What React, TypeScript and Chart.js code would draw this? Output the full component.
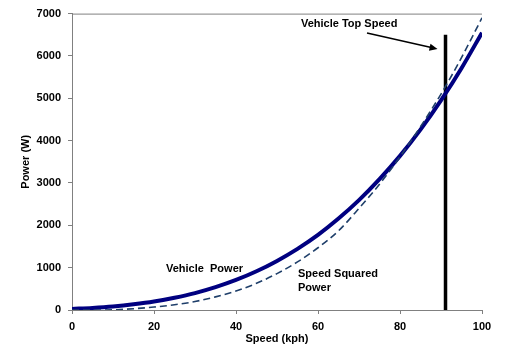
import React, { useEffect, useRef } from "react";
import { Chart, registerables } from "chart.js";

Chart.register(...registerables);

const speeds = [0, 5, 10, 15, 20, 25, 30, 35, 40, 45, 50, 55, 60, 65, 70, 75, 80, 85, 90, 95, 100];
const vehiclePower = [25, 50, 85, 135, 200, 290, 400, 540, 710, 915, 1160, 1445, 1775, 2160, 2595, 3090, 3640, 4260, 4950, 5710, 6550];
const speedSquaredPower = [0, 0, 5, 30, 70, 124, 200, 310, 450, 630, 860, 1135, 1470, 1870, 2400, 2970, 3620, 4330, 5100, 5960, 6900];
const topSpeed = 91.1;
const topSpeedLineTop = 6500;
const xTicks = [0, 20, 40, 60, 80, 100];
const yTicks = [0, 1000, 2000, 3000, 4000, 5000, 6000, 7000];

const FONT = "'Liberation Sans', Arial, sans-serif";

const overlay = {
  id: "overlay",
  afterDraw(chart: any) {
    const { ctx, chartArea } = chart;
    const xs = chart.scales.x;
    ctx.save();
    // top border
    ctx.strokeStyle = "#808080";
    ctx.lineWidth = 1;
    ctx.beginPath();
    ctx.moveTo(chartArea.left, chartArea.top + 0.5);
    ctx.lineTo(chartArea.right, chartArea.top + 0.5);
    ctx.stroke();

    ctx.fillStyle = "#000";
    ctx.font = `bold 11px ${FONT}`;
    ctx.textBaseline = "middle";
    // annotations
    ctx.textAlign = "left";
    ctx.fillText("Vehicle Top Speed", 301, 24);
    ctx.fillText("Vehicle  Power", 166, 269);
    ctx.fillText("Speed Squared", 298, 274);
    ctx.fillText("Power", 298, 288);

    // arrow
    const x1 = 367, y1 = 33;
    const x2 = xs.getPixelForValue(topSpeed) - 8;
    const y2 = 49;
    ctx.strokeStyle = "#000";
    ctx.lineWidth = 1.5;
    ctx.beginPath();
    ctx.moveTo(x1, y1);
    ctx.lineTo(x2 - 4, y2 - 1);
    ctx.stroke();
    const ang = Math.atan2(y2 - y1, x2 - x1);
    ctx.beginPath();
    ctx.moveTo(x2, y2);
    ctx.lineTo(x2 - 8 * Math.cos(ang) + 3.5 * Math.sin(ang), y2 - 8 * Math.sin(ang) - 3.5 * Math.cos(ang));
    ctx.lineTo(x2 - 8 * Math.cos(ang) - 3.5 * Math.sin(ang), y2 - 8 * Math.sin(ang) + 3.5 * Math.cos(ang));
    ctx.closePath();
    ctx.fill();

    // axis titles
    ctx.textAlign = "center";
    ctx.fillText("Speed (kph)", (chartArea.left + chartArea.right) / 2, 339);
    ctx.translate(26, (chartArea.top + chartArea.bottom) / 2);
    ctx.rotate(-Math.PI / 2);
    ctx.fillText("Power (W)", 0, 0);
    ctx.restore();
  },
};

export default function App() {
  const ref = useRef<HTMLCanvasElement | null>(null);
  useEffect(() => {
    document.body.style.margin = "0";
    const canvas = ref.current!;
    const chart = new Chart(canvas, {
      type: "line",
      data: {
        datasets: [
          {
            label: "Speed Squared Power",
            data: speeds.map((s, i) => ({ x: s, y: speedSquaredPower[i] })),
            borderColor: "#1F3F6A",
            borderWidth: 1.6,
            borderDash: [7, 4],
            pointRadius: 0,
            cubicInterpolationMode: "monotone",
            fill: false,
          },
          {
            label: "Vehicle Power",
            data: speeds.map((s, i) => ({ x: s, y: vehiclePower[i] })),
            borderColor: "#000080",
            borderWidth: 4,
            pointRadius: 0,
            cubicInterpolationMode: "monotone",
            fill: false,
          },
          {
            label: "Vehicle Top Speed",
            data: [
              { x: topSpeed, y: 0 },
              { x: topSpeed, y: topSpeedLineTop },
            ],
            borderColor: "#000000",
            borderWidth: 3.5,
            pointRadius: 0,
            fill: false,
          },
        ],
      },
      options: {
        animation: false,
        responsive: false,
        maintainAspectRatio: false,
        layout: { padding: { left: 0, top: 12, right: 23, bottom: 0 } },
        plugins: { legend: { display: false }, tooltip: { enabled: false } },
        scales: {
          x: {
            type: "linear",
            min: 0,
            max: 100,
            afterFit: (s: any) => {
              s.height = 49;
            },
            afterBuildTicks: (s: any) => {
              s.ticks = xTicks.map((v) => ({ value: v }));
            },
            ticks: {
              color: "#000",
              font: { family: FONT, size: 11, weight: "bold" },
              padding: 6,
              maxRotation: 0,
              callback: (v: any) => String(v),
            },
            grid: { drawOnChartArea: false, drawTicks: true, tickLength: 4, color: "#808080" },
            border: { color: "#808080", width: 1 },
          },
          y: {
            type: "linear",
            min: 0,
            max: 7000,
            afterFit: (s: any) => {
              s.width = 72;
            },
            afterBuildTicks: (s: any) => {
              s.ticks = yTicks.map((v) => ({ value: v }));
            },
            ticks: {
              color: "#000",
              font: { family: FONT, size: 11, weight: "bold" },
              padding: 7,
              callback: (v: any) => String(v),
            },
            grid: { drawOnChartArea: false, drawTicks: true, tickLength: 4, color: "#808080" },
            border: { color: "#808080", width: 1 },
          },
        },
      },
      plugins: [overlay],
    } as any);
    return () => chart.destroy();
  }, []);
  return (
    <div style={{ position: "absolute", left: 0, top: 0, width: 505, height: 359, background: "#fff" }}>
      <canvas ref={ref} width={505} height={359} style={{ width: 505, height: 359 }} />
    </div>
  );
}
